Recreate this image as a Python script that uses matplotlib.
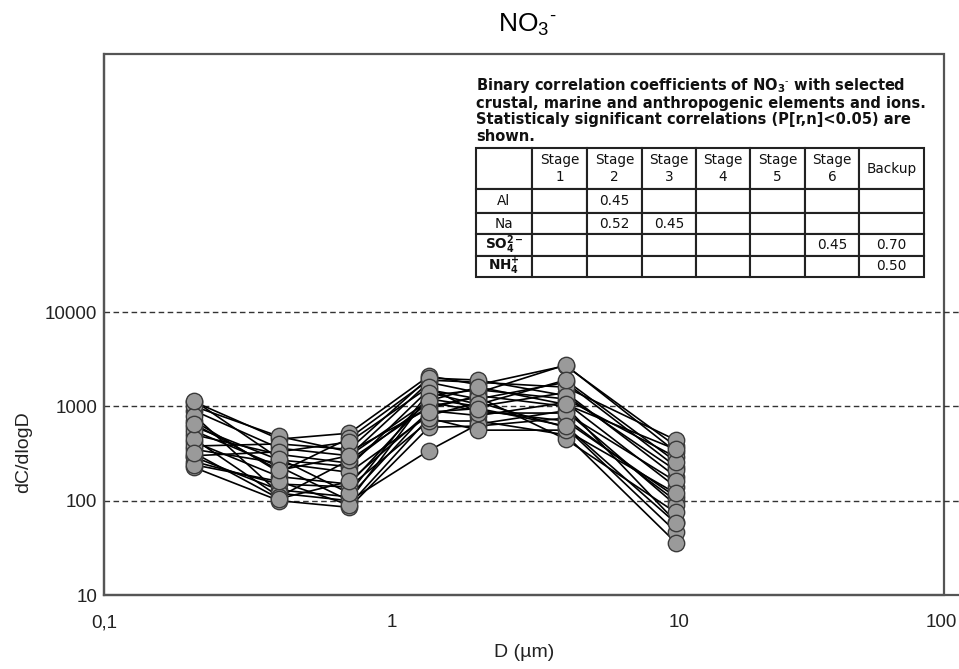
import matplotlib
matplotlib.use("Agg")
import matplotlib.pyplot as plt
from matplotlib.patches import Rectangle
import matplotlib.transforms as mtransforms

plt.rcParams['font.family'] = ['Liberation Sans', 'DejaVu Sans']
plt.rcParams['mathtext.fontset'] = 'custom'
plt.rcParams['mathtext.rm'] = 'Liberation Sans'
plt.rcParams['mathtext.it'] = 'Liberation Sans:italic'
plt.rcParams['mathtext.bf'] = 'DejaVu Sans:bold'

# ---------------- data ----------------
diameters = [0.206, 0.407, 0.714, 1.35, 2.01, 4.04, 9.77]  # stage mid diameters (um)

series = [
    [1120, 450, 520, 2100, 1700, 2700, 380],
    [900, 360, 300, 1800, 1400, 2750, 330],
    [610, 270, 230, 1500, 1200, 1800, 230],
    [420, 180, 150, 1200, 1000, 1400, 180],
    [290, 130, 110, 900, 800, 1100, 140],
    [225, 100, 85, 600, 620, 750, 100],
    [1000, 480, 330, 950, 1300, 1000, 60],
    [700, 200, 460, 1900, 1800, 1600, 440],
    [500, 310, 250, 1100, 900, 700, 110],
    [350, 250, 200, 800, 1100, 600, 47],
    [260, 150, 140, 700, 700, 500, 36],
    [800, 120, 100, 1300, 1500, 1200, 290],
    [380, 400, 350, 2000, 1900, 1300, 210],
    [550, 230, 100, 340, 650, 900, 90],
    [450, 110, 270, 1000, 1250, 450, 75],
    [300, 330, 420, 1600, 850, 850, 160],
    [240, 160, 90, 750, 560, 560, 120],
    [1150, 280, 120, 1400, 1050, 1900, 260],
    [650, 210, 300, 1150, 1600, 1050, 350],
    [320, 105, 160, 870, 950, 620, 58],
]

x_ticks = [0.1, 1, 10, 100]
x_ticklabels = ['0,1', '1', '10', '100']
y_ticks = [10, 100, 1000, 10000]
y_ticklabels = ['10', '100', '1000', '10000']

title_text = r'NO$_\mathrm{3}$$^{\text{-}}$'
caption_lines = [
    r'Binary correlation coefficients of NO$_\mathbf{3}$$^{\text{-}}$ with selected',
    'crustal, marine and anthropogenic elements and ions.',
    'Statisticaly significant correlations (P[r,n]<0.05) are',
    'shown.',
]
table_cols = ['', 'Stage\n1', 'Stage\n2', 'Stage\n3', 'Stage\n4', 'Stage\n5', 'Stage\n6', 'Backup']
table_rows = ['Al', 'Na', r'$\mathbf{SO_4^{2-}}$', r'$\mathbf{NH_4^{+}}$']
table_values = [
    ['', '0.45', '', '', '', '', ''],
    ['', '0.52', '0.45', '', '', '', ''],
    ['', '', '', '', '', '0.45', '0.70'],
    ['', '', '', '', '', '', '0.50'],
]

# ---------------- figure ----------------
W, H = 959, 669
fig = plt.figure(figsize=(W / 100, H / 100), dpi=100)
ax = fig.add_axes([104 / W, 74 / H, 862 / W, 541 / H])

ax.set_xscale('log')
ax.set_yscale('log')
ax.set_xlim(0.1, 100)
ax.set_ylim(10, 10 ** 6.737)

for vals in series:
    ax.plot(diameters, vals, '-', color='black', lw=1.2, zorder=3)
for vals in series:
    ax.plot(diameters, vals, 'o', ls='none', ms=11.8, mfc='#9a9a9a',
            mec='#3a3a3a', mew=1.0, zorder=4)

ax.set_xticks(x_ticks)
ax.set_xticklabels(x_ticklabels)
ax.set_yticks(y_ticks)
ax.set_yticklabels(y_ticklabels)
ax.minorticks_off()
ax.tick_params(axis='x', length=0, pad=14, labelsize=13.5, colors='#222222')
ax.tick_params(axis='y', length=0, pad=5, labelsize=13.5, colors='#222222')

# shift the last x label left so it stays inside the figure
lbls = ax.get_xticklabels()
off = mtransforms.ScaledTranslation(-25 / 100, 0, fig.dpi_scale_trans)
lbls[-1].set_transform(lbls[-1].get_transform() + off)

ax.grid(axis='y', which='major', linestyle=(0, (4, 2.5)), color='#333333', lw=1.0)
ax.grid(axis='x', visible=False)

for s in ['top', 'right']:
    ax.spines[s].set_visible(False)
for s in ['left', 'bottom']:
    ax.spines[s].set_color('#555555')
    ax.spines[s].set_linewidth(1.6)

# plot frame (closed up to x ~ 944 px)
ax.add_patch(Rectangle((0, 0), 840 / 862, 1, transform=ax.transAxes, fill=False,
                       ec='#555555', lw=1.6, clip_on=False, zorder=1))

ax.set_ylabel('dC/dlogD', fontsize=14, color='#222222')
ax.yaxis.set_label_coords(-0.083, 0.265)
ax.set_xlabel('D (µm)', fontsize=14, color='#222222')
ax.xaxis.set_label_coords((524 - 104) / 862, -(644 - 595) / 541)

fig.text(527 / W, 1 - 32 / H, title_text, ha='center', va='baseline', fontsize=19)

# caption
fig.text(476 / W, 1 - 76 / H, '\n'.join(caption_lines), ha='left', va='top',
         fontsize=10.5, fontweight='bold', family='DejaVu Sans', linespacing=1.1,
         color='#111111')

# table
col_px = [56, 55, 55, 54, 54, 55, 54, 65]
tot_w = sum(col_px)
cell_text = [[r] + v for r, v in zip(table_rows, table_values)]
tx0 = (476 - 104) / 862
ty0 = (595 - 277) / 541
tw = tot_w / 862
th = (277 - 148) / 541
tbl = ax.table(cellText=cell_text, colLabels=table_cols, cellLoc='center',
               colWidths=[c / tot_w for c in col_px],
               bbox=[tx0, ty0, tw, th], zorder=5)
tbl.auto_set_font_size(False)
tbl.set_fontsize(9.8)
row_px = [41, 24, 21, 22, 21]
for (r, c), cell in tbl.get_celld().items():
    cell.set_height(row_px[r])
    cell.set_edgecolor('#222222')
    cell.set_linewidth(1.5)
    cell.set_facecolor('white')
    cell.get_text().set_family('DejaVu Sans')
    cell.get_text().set_color('#111111')
    if c == 0:
        cell._loc = 'left'
        cell.PAD = 0.08

fig.savefig('out.png', dpi=100)
